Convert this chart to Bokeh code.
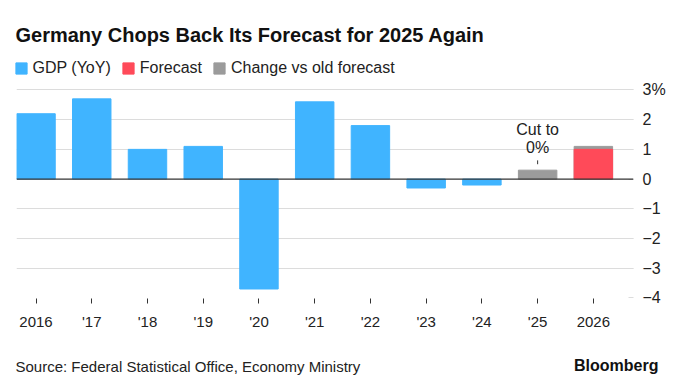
from bokeh.plotting import figure
from bokeh.layouts import column, row
from bokeh.models import (Label, Span, Legend, LegendItem, FixedTicker, Range1d)
from bokeh.embed import file_html
from bokeh.resources import INLINE

# ---- data ----
years = ["2016", "'17", "'18", "'19", "'20", "'21", "'22", "'23", "'24", "'25", "2026"]
gdp_years = ["2016", "'17", "'18", "'19", "'20", "'21", "'22", "'23", "'24"]
gdp_values = [2.2, 2.7, 1.0, 1.1, -3.7, 2.6, 1.8, -0.3, -0.2]
old_years = ["'25", "2026"]
old_forecast_values = [0.3, 1.1]
forecast_years = ["2026"]
forecast_values = [1.0]
y_ticks = [-4, -3, -2, -1, 0, 1, 2, 3]

BLUE = "#40B4FF"
RED = "#FF4A59"
GRAY = "#9B9B9B"
FONT = "Liberation Sans"
W = 670

def xs(labels):
    return [years.index(l) for l in labels]

def blank(height):
    f = figure(width=W, height=height, output_backend="svg", toolbar_location=None,
               x_range=Range1d(0, W), y_range=Range1d(0, height),
               x_axis_location=None, y_axis_location=None,
               min_border=0, min_border_left=0, min_border_right=0,
               min_border_top=0, min_border_bottom=0)
    f.outline_line_color = None
    f.xgrid.visible = False
    f.ygrid.visible = False
    return f

# ---- header: title + legend ----
HH = 80
head = blank(HH)
head.add_layout(Label(x=15, y=46, text="Germany Chops Back Its Forecast for 2025 Again",
                      text_font=FONT, text_font_style="bold", text_font_size="20px",
                      text_baseline="middle", text_color="#111111"))
# legend swatches: the same series, not drawn in this header frame
h_gdp = head.vbar(x=xs(gdp_years), top=gdp_values, width=1, color=BLUE, visible=False)
h_fc = head.vbar(x=xs(forecast_years), top=forecast_values, width=1, color=RED, visible=False)
h_old = head.vbar(x=xs(old_years), top=old_forecast_values, width=1, color=GRAY, visible=False)
legend = Legend(items=[LegendItem(label="GDP (YoY)", renderers=[h_gdp]),
                       LegendItem(label="Forecast", renderers=[h_fc]),
                       LegendItem(label="Change vs old forecast", renderers=[h_old])],
                orientation="horizontal", location=(13.5, 3), border_line_color=None,
                background_fill_alpha=0, padding=0, margin=0, spacing=10,
                glyph_width=14, glyph_height=14, label_standoff=5, label_height=14,
                label_text_font=FONT, label_text_font_size="16px",
                label_text_color="#222222", inactive_fill_alpha=0)
head.add_layout(legend)

# ---- main chart ----
p = figure(width=W, height=265, output_backend="svg", toolbar_location=None,
           x_range=Range1d(-0.35, 10.72), y_range=Range1d(-4.02, 3.15),
           y_axis_location="right",
           min_border_left=16, min_border_right=37, min_border_top=5, min_border_bottom=47)
p.outline_line_color = None

p.xgrid.visible = False
p.ygrid.ticker = FixedTicker(ticks=[t for t in y_ticks if t not in (-4, 0)])
p.ygrid.grid_line_color = "#dcdcdc"
p.ygrid.grid_line_width = 1.2

bw = 0.69
p.vbar(x=xs(gdp_years), top=gdp_values, bottom=0, width=bw, color=BLUE)
p.vbar(x=xs(old_years), top=old_forecast_values, bottom=0, width=bw, color=GRAY)
p.vbar(x=xs(forecast_years), top=forecast_values, bottom=0, width=bw, color=RED)

p.add_layout(Span(location=0, dimension="width", line_color="#333333", line_width=1.3))

xa = p.xaxis[0]
xa.ticker = FixedTicker(ticks=list(range(len(years))))
xa.major_label_overrides = {i: y for i, y in enumerate(years)}
xa.axis_line_color = None
xa.major_tick_in = 0
xa.major_tick_out = 5
xa.major_tick_line_color = "#333333"
xa.minor_tick_line_color = None
xa.major_label_standoff = 9
xa.major_label_text_font = FONT
xa.major_label_text_font_size = "15px"
xa.major_label_text_color = "#222222"

ya = p.yaxis[0]
ya.ticker = FixedTicker(ticks=y_ticks)
ya.major_label_overrides = {3: "3%"}
ya.axis_line_color = None
ya.major_tick_in = 5
ya.major_tick_out = 0
ya.major_tick_line_color = "#dcdcdc"
ya.minor_tick_line_color = None
ya.major_label_standoff = 9
ya.major_label_text_font = FONT
ya.major_label_text_font_size = "16px"
ya.major_label_text_color = "#222222"

cx = years.index("'25")
p.add_layout(Label(x=cx, y=1.68, text="Cut to", text_align="center",
                   text_baseline="middle", text_font=FONT, text_font_size="16px",
                   text_color="#222222"))
p.add_layout(Label(x=cx, y=1.05, text="0%", text_align="center",
                   text_baseline="middle", text_font=FONT, text_font_size="16px",
                   text_color="#222222"))
p.segment(x0=[cx], y0=[0.5], x1=[cx], y1=[0.63], line_color="#333333", line_width=1)

# ---- footer ----
FH = 44
foot = blank(FH)
foot.add_layout(Label(x=15, y=23, text="Source: Federal Statistical Office, Economy Ministry",
                      text_font=FONT, text_font_size="15px",
                      text_baseline="middle", text_color="#222222"))
foot.add_layout(Label(x=658, y=24, text="Bloomberg", text_align="right",
                      text_font=FONT, text_font_style="bold", text_font_size="16px",
                      text_baseline="middle", text_color="#111111"))

layout = column(row(head), p, row(foot), spacing=0)
open("out.html", "w").write(file_html(layout, INLINE))
